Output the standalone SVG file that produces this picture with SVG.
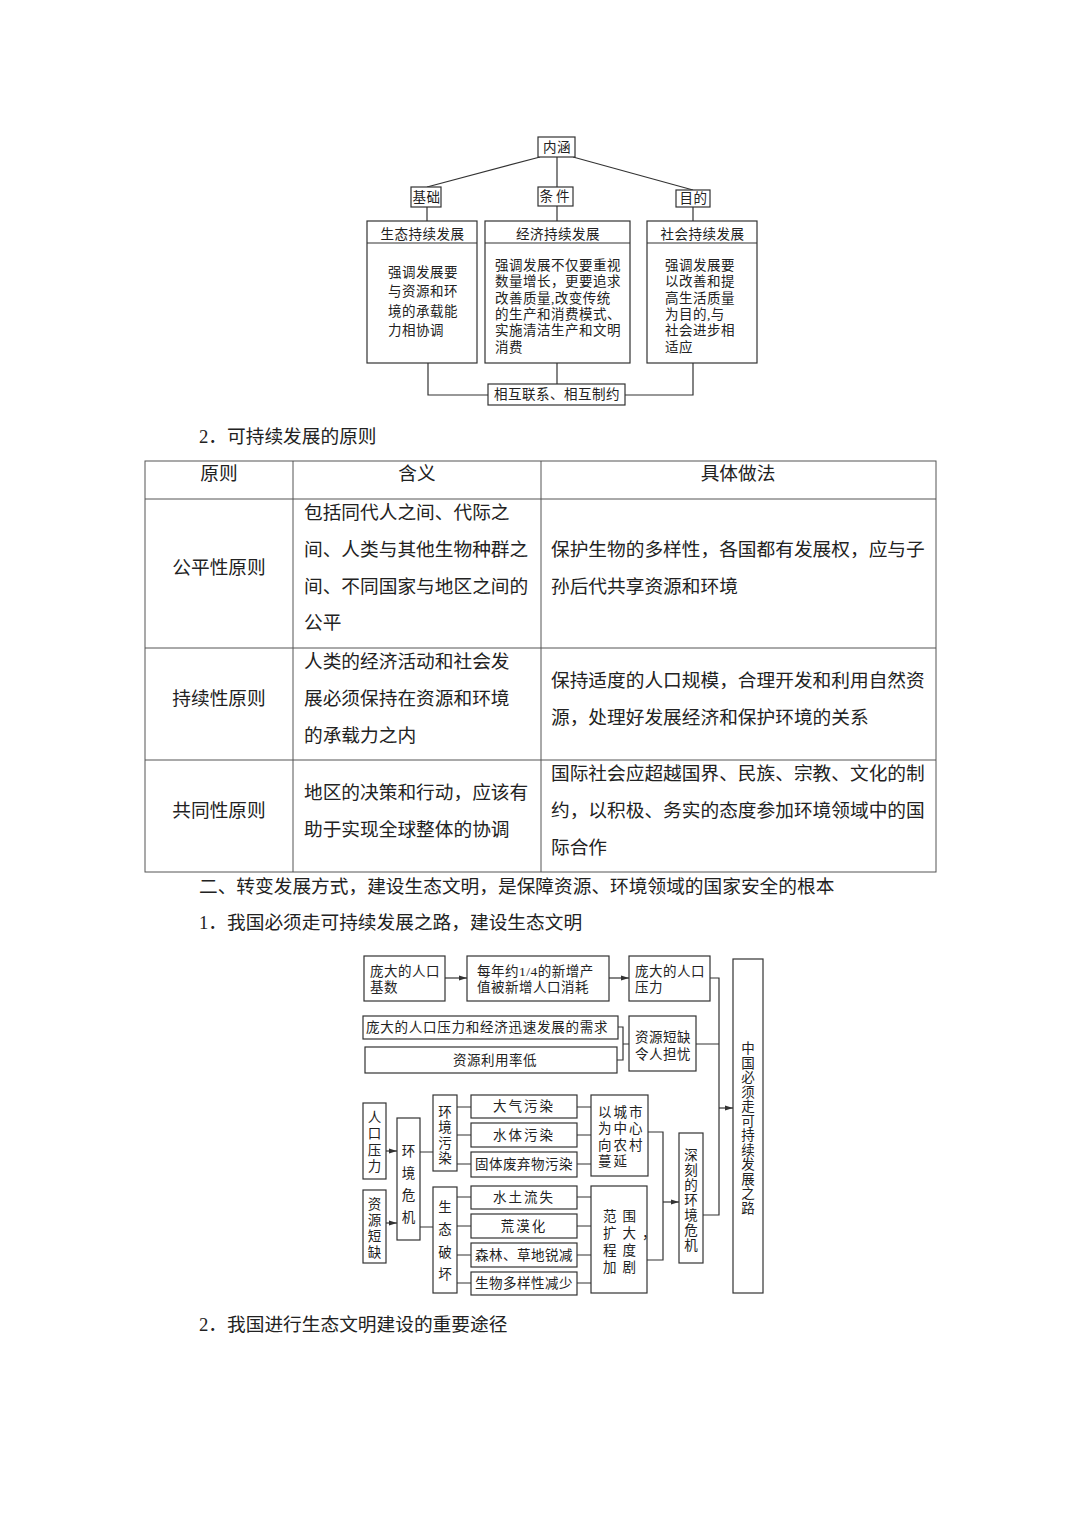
<svg xmlns="http://www.w3.org/2000/svg" width="1080" height="1528" viewBox="0 0 1080 1528">
<style>
.bx{fill:#fff;stroke:#333;stroke-width:1.2}
.ln{fill:none;stroke:#333;stroke-width:1.2}
.tl{fill:none;stroke:#555;stroke-width:1}
.t{font-family:"Liberation Serif","Noto Sans CJK SC",sans-serif;font-size:13.5px;fill:#222;dominant-baseline:central;letter-spacing:0.5px}
.v{font-family:"Noto Sans CJK SC",sans-serif;font-size:13.5px;fill:#222;text-anchor:middle;writing-mode:vertical-rl}
.c{text-anchor:middle}
.p{font-family:"Liberation Serif","Noto Sans CJK SC",serif;font-size:18.7px;fill:#222;dominant-baseline:central}
</style>
<defs>
<marker id="ar" markerWidth="8" markerHeight="6" refX="8" refY="3" orient="auto" markerUnits="userSpaceOnUse">
<path d="M0,0.5 L8,3 L0,5.5 z" fill="#333"/>
</marker>
</defs>
<rect width="1080" height="1528" fill="#fff"/>

<!-- ===== Top diagram ===== -->
<g id="top-connectors">
<path class="ln" d="M540,157 L427,187"/>
<path class="ln" d="M557,157 V187"/>
<path class="ln" d="M573,157 L693,190"/>
<path class="ln" d="M427,207 V221"/>
<path class="ln" d="M557,206 V221"/>
<path class="ln" d="M693,207 V221"/>
<path class="ln" d="M428,363 V395 H488"/>
<path class="ln" d="M557,363 V384"/>
<path class="ln" d="M693,363 V395 H625"/>
</g>
<g id="n-neihan"><rect class="bx" x="538" y="137" width="37" height="20"/><text class="t c" x="557" y="147">内涵</text></g>
<g id="n-jichu"><rect class="bx" x="411" y="187" width="30" height="20"/><text class="t c" x="426.5" y="197">基础</text></g>
<g id="n-tiaojian"><rect class="bx" x="538" y="187" width="35" height="19"/><text class="t c" x="556" y="196.5" style="letter-spacing:3px">条件</text></g>
<g id="n-mudi"><rect class="bx" x="676" y="190" width="34" height="17"/><text class="t c" x="693.5" y="198.5">目的</text></g>
<g id="n-shengtai">
<rect class="bx" x="367" y="221" width="110" height="142"/><path class="ln" d="M367,243 H477"/>
<text class="t c" x="422.5" y="234">生态持续发展</text>
<text class="t" x="388" y="272">强调发展要</text>
<text class="t" x="388" y="291.5">与资源和环</text>
<text class="t" x="388" y="311">境的承载能</text>
<text class="t" x="388" y="330.5">力相协调</text>
</g>
<g id="n-jingji">
<rect class="bx" x="485" y="221" width="145" height="142"/><path class="ln" d="M485,243 H630"/>
<text class="t c" x="558" y="234">经济持续发展</text>
<text class="t" x="495" y="265">强调发展不仅要重视</text>
<text class="t" x="495" y="281.5">数量增长，更要追求</text>
<text class="t" x="495" y="298">改善质量,改变传统</text>
<text class="t" x="495" y="314">的生产和消费模式、</text>
<text class="t" x="495" y="330.5">实施清洁生产和文明</text>
<text class="t" x="495" y="347">消费</text>
</g>
<g id="n-shehui">
<rect class="bx" x="647" y="221" width="110" height="142"/><path class="ln" d="M647,243 H757"/>
<text class="t c" x="702.5" y="234">社会持续发展</text>
<text class="t" x="665" y="265">强调发展要</text>
<text class="t" x="665" y="281.5">以改善和提</text>
<text class="t" x="665" y="298">高生活质量</text>
<text class="t" x="665" y="314">为目的,与</text>
<text class="t" x="665" y="330.5">社会进步相</text>
<text class="t" x="665" y="347">适应</text>
</g>
<g id="n-xianghu"><rect class="bx" x="488" y="384" width="137" height="21"/><text class="t c" x="557" y="394.5">相互联系、相互制约</text></g>

<!-- ===== Table ===== -->
<text class="p" x="199" y="436">2．可持续发展的原则</text>
<g id="table">
<rect class="tl" x="145" y="461" width="791" height="411"/>
<path class="tl" d="M293,461 V872 M541,461 V872 M145,499 H936 M145,648 H936 M145,760 H936"/>
<text class="p c" x="219" y="473">原则</text>
<text class="p c" x="417" y="473">含义</text>
<text class="p c" x="738" y="473">具体做法</text>
<text class="p c" x="219" y="567">公平性原则</text>
<text class="p" x="304" y="512">包括同代人之间、代际之</text>
<text class="p" x="304" y="549">间、人类与其他生物种群之</text>
<text class="p" x="304" y="586">间、不同国家与地区之间的</text>
<text class="p" x="304" y="622">公平</text>
<text class="p" x="551" y="549">保护生物的多样性，各国都有发展权，应与子</text>
<text class="p" x="551" y="586">孙后代共享资源和环境</text>
<text class="p c" x="219" y="698">持续性原则</text>
<text class="p" x="304" y="661">人类的经济活动和社会发</text>
<text class="p" x="304" y="698">展必须保持在资源和环境</text>
<text class="p" x="304" y="735">的承载力之内</text>
<text class="p" x="551" y="680">保持适度的人口规模，合理开发和利用自然资</text>
<text class="p" x="551" y="717">源，处理好发展经济和保护环境的关系</text>
<text class="p c" x="219" y="810">共同性原则</text>
<text class="p" x="304" y="792">地区的决策和行动，应该有</text>
<text class="p" x="304" y="829">助于实现全球整体的协调</text>
<text class="p" x="551" y="773">国际社会应超越国界、民族、宗教、文化的制</text>
<text class="p" x="551" y="810">约，以积极、务实的态度参加环境领域中的国</text>
<text class="p" x="551" y="847">际合作</text>
</g>
<text class="p" x="199" y="886">二、转变发展方式，建设生态文明，是保障资源、环境领域的国家安全的根本</text>
<text class="p" x="199" y="922">1．我国必须走可持续发展之路，建设生态文明</text>

<!-- ===== Bottom diagram ===== -->
<g id="bottom-connectors">
<path class="ln" d="M445,978 H467" marker-end="url(#ar)"/>
<path class="ln" d="M609,978 H629" marker-end="url(#ar)"/>
<path class="ln" d="M618,1027 H623 V1060 H617 M623,1044 H629"/>
<path class="ln" d="M710,978 H719 V1215 H703 M696,1044 H719"/>
<path class="ln" d="M719,1108 H733" marker-end="url(#ar)"/>
<path class="ln" d="M386,1151 H397" marker-end="url(#ar)"/>
<path class="ln" d="M386,1223 H397" marker-end="url(#ar)"/>
<path class="ln" d="M420,1152 H433 M420,1227 H433"/>
<path class="ln" d="M457,1107 H471 M457,1135 H471 M457,1164 H471"/>
<path class="ln" d="M457,1197 H471 M457,1226 H471 M457,1255 H471 M457,1283 H471"/>
<path class="ln" d="M577,1107 H591 M577,1135 H591 M577,1164 H591"/>
<path class="ln" d="M577,1197 H591 M577,1226 H591 M577,1255 H591 M577,1283 H591"/>
<path class="ln" d="M648,1132 H663 V1260 H647"/>
<path class="ln" d="M663,1202 H679" marker-end="url(#ar)"/>
</g>
<g id="b-jishu"><rect class="bx" x="364" y="956" width="81" height="45"/>
<text class="t" x="370" y="971">庞大的人口</text><text class="t" x="370" y="987">基数</text></g>
<g id="b-meinian"><rect class="bx" x="467" y="956" width="142" height="45"/>
<text class="t" x="477" y="971">每年约1/4的新增产</text><text class="t" x="477" y="987">值被新增人口消耗</text></g>
<g id="b-yali"><rect class="bx" x="629" y="956" width="81" height="45"/>
<text class="t" x="635" y="971">庞大的人口</text><text class="t" x="635" y="987">压力</text></g>
<g id="b-xuqiu"><rect class="bx" x="363" y="1016" width="255" height="23"/>
<text class="t" x="366" y="1027.5" textLength="242" lengthAdjust="spacing">庞大的人口压力和经济迅速发展的需求</text></g>
<g id="b-liyonglv"><rect class="bx" x="365" y="1047" width="252" height="26"/>
<text class="t c" x="495" y="1060">资源利用率低</text></g>
<g id="b-duanque"><rect class="bx" x="629" y="1016" width="67" height="55"/>
<text class="t" x="635" y="1037">资源短缺</text><text class="t" x="635" y="1054">令人担忧</text></g>
<g id="b-zhongguo"><rect class="bx" x="733" y="959" width="30" height="334"/>
<text class="v" x="748" y="1128.5" style="letter-spacing:1px">中国必须走可持续发展之路</text></g>
<g id="b-renkou"><rect class="bx" x="363" y="1103" width="23" height="76"/>
<text class="v" x="374.5" y="1143" style="letter-spacing:3px">人口压力</text></g>
<g id="b-ziyuan"><rect class="bx" x="363" y="1190" width="23" height="73"/>
<text class="v" x="374.5" y="1229" style="letter-spacing:2.5px">资源短缺</text></g>
<g id="b-weiji"><rect class="bx" x="397" y="1118" width="23" height="122"/>
<text class="v" x="408.5" y="1188" style="letter-spacing:8.5px">环境危机</text></g>
<g id="b-wuran"><rect class="bx" x="433" y="1095" width="24" height="76"/>
<text class="v" x="445" y="1136" style="letter-spacing:2px">环境污染</text></g>
<g id="b-pohuai"><rect class="bx" x="433" y="1187" width="24" height="106"/>
<text class="v" x="445" y="1245" style="letter-spacing:9px">生态破坏</text></g>
<g id="b-daqi"><rect class="bx" x="471" y="1095" width="106" height="23"/><text class="t c" x="524" y="1106.5" style="letter-spacing:2px">大气污染</text></g>
<g id="b-shuiti"><rect class="bx" x="471" y="1123" width="106" height="24"/><text class="t c" x="524" y="1135" style="letter-spacing:2px">水体污染</text></g>
<g id="b-guti"><rect class="bx" x="471" y="1152" width="106" height="25"/><text class="t c" x="524" y="1164.5">固体废弃物污染</text></g>
<g id="b-shuitu"><rect class="bx" x="471" y="1186" width="106" height="23"/><text class="t c" x="524" y="1197.5" style="letter-spacing:2px">水土流失</text></g>
<g id="b-huangmo"><rect class="bx" x="471" y="1214" width="106" height="24"/><text class="t c" x="524" y="1226" style="letter-spacing:2px">荒漠化</text></g>
<g id="b-senlin"><rect class="bx" x="471" y="1243" width="106" height="24"/><text class="t c" x="524" y="1255">森林、草地锐减</text></g>
<g id="b-shengwu"><rect class="bx" x="471" y="1272" width="106" height="23"/><text class="t c" x="524" y="1283.5">生物多样性减少</text></g>
<g id="b-chengshi"><rect class="bx" x="591" y="1095" width="57" height="81"/>
<text class="t" x="598" y="1112" style="letter-spacing:2px">以城市</text>
<text class="t" x="598" y="1128.5" style="letter-spacing:2px">为中心</text>
<text class="t" x="598" y="1145" style="letter-spacing:2px">向农村</text>
<text class="t" x="598" y="1161.5" style="letter-spacing:2px">蔓延</text></g>
<g id="b-fanwei"><rect class="bx" x="591" y="1186" width="56" height="107"/>
<text class="t" x="603" y="1216" style="letter-spacing:6px">范围</text>
<text class="t" x="603" y="1233" style="letter-spacing:6px">扩大<tspan style="letter-spacing:0">，</tspan></text>
<text class="t" x="603" y="1250" style="letter-spacing:6px">程度</text>
<text class="t" x="603" y="1267" style="letter-spacing:6px">加剧</text></g>
<g id="b-shenke"><rect class="bx" x="679" y="1133" width="24" height="130"/>
<text class="v" x="691" y="1201" style="letter-spacing:1.5px">深刻的环境危机</text></g>

<text class="p" x="199" y="1324">2．我国进行生态文明建设的重要途径</text>
</svg>
